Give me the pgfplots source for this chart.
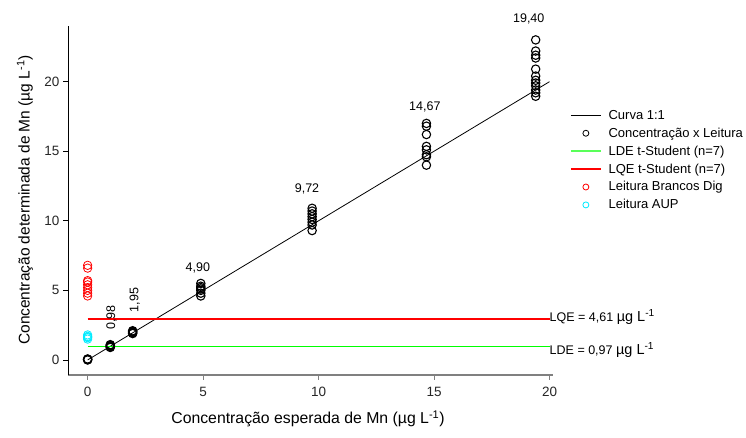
\documentclass[border=0pt]{standalone}
\usepackage{pgfplots}
\pgfplotsset{compat=1.18}
\usepackage{fontspec}
\setmainfont{Liberation Sans}
\definecolor{axgray}{RGB}{128,128,128}
\definecolor{myred}{RGB}{255,0,0}
\definecolor{mygreen}{RGB}{0,255,0}
\definecolor{mycyan}{RGB}{0,235,255}
\begin{document}
\begin{tikzpicture}
\useasboundingbox (0,0) rectangle (746pt,438pt);
\begin{axis}[
  at={(68pt,63pt)}, anchor=south west,
  scale only axis, width=485pt, height=349pt,
  xmin=-0.85, xmax=20.15, ymin=-1.08, ymax=24,
  axis x line*=bottom, axis y line*=left,
  x axis line style={-, axgray, line width=1.6pt},
  y axis line style={-, black, line width=1pt},
  xtick={0,5,10,15,20}, ytick={0,5,10,15,20},
  tick align=outside, major tick length=5pt,
  xtick style={axgray, line width=1pt},
  ytick style={black, line width=0.8pt},
  /pgf/number format/assume math mode=true,
  ticklabel style={font=\fontsize{13.5}{15}\selectfont, text=black!85},
  xticklabel style={yshift=-4pt},
  clip=false,
  legend style={at={(1.035,0.765)}, anchor=north west, draw=none, fill=none,
    font=\fontsize{13}{15}\selectfont, row sep=3pt, inner sep=0pt,
    /tikz/every odd column/.style={column sep=5pt}},
  legend cell align=left,
]
% Curva 1:1
\addplot[color=black, line width=0.8pt, no marks,
  legend image code/.code={\draw[color=black, line width=0.8pt] (0pt,0pt) -- (30pt,0pt);}]
  coordinates {(0,0) (20,20)};
\addlegendentry{Curva 1:1}
% Concentracao x Leitura
\addplot[only marks, mark=o, mark size=4.2pt, color=black, line width=1.1pt,
  legend image code/.code={\draw[color=black, line width=0.8pt] (15pt,0pt) circle (3pt);}]
  coordinates {
  (0,0.00) (0,0.03) (0,0.05) (0,0.07)
  (0.98,0.90) (0.98,0.95) (0.98,1.00) (0.98,1.05) (0.98,1.10)
  (1.95,1.90) (1.95,1.95) (1.95,2.00) (1.95,2.05) (1.95,2.10)
  (4.9,4.6) (4.9,4.8) (4.9,5.0) (4.9,5.1) (4.9,5.2) (4.9,5.3) (4.9,5.5)
  (9.72,9.3) (9.72,9.7) (9.72,9.9) (9.72,10.1) (9.72,10.3) (9.72,10.5) (9.72,10.7) (9.72,10.9)
  (14.67,14.0) (14.67,14.6) (14.67,14.75) (14.67,15.1) (14.67,15.35) (14.67,16.2) (14.67,16.8) (14.67,17.0)
  (19.4,18.95) (19.4,19.2) (19.4,19.4) (19.4,19.7) (19.4,19.9) (19.4,20.1) (19.4,20.4) (19.4,20.9)
  (19.4,21.7) (19.4,21.9) (19.4,22.2) (19.4,23.0)
  };
\addlegendentry{Concentração x Leitura}
% LDE
\addplot[color=mygreen, line width=1pt, no marks,
  legend image code/.code={\draw[draw=mygreen!65!white, line width=1.4pt] (0pt,0pt) -- (30pt,0pt);}]
  coordinates {(0,0.97) (20,0.97)};
\addlegendentry{LDE t-Student (n=7)}
% LQE
\addplot[color=myred, line width=1.6pt, no marks,
  legend image code/.code={\draw[draw=myred, line width=1.4pt] (0pt,0pt) -- (30pt,0pt);}]
  coordinates {(0,2.93) (20,2.93)};
\addlegendentry{LQE t-Student (n=7)}
% Brancos
\addplot[only marks, mark=o, mark size=4.2pt, color=myred, line width=0.8pt,
  legend image code/.code={\draw[draw=myred, line width=0.8pt] (15pt,0pt) circle (3pt);}]
  coordinates {(0,4.6) (0,4.8) (0,5.0) (0,5.2) (0,5.4) (0,5.6) (0,5.7) (0,6.6) (0,6.8)};
\addlegendentry{Leitura Brancos Dig}
% AUP
\addplot[only marks, mark=o, mark size=4.2pt, color=mycyan, line width=0.8pt,
  legend image code/.code={\draw[draw=mycyan, line width=0.8pt] (15pt,0pt) circle (3pt);}]
  coordinates {(0,1.5) (0,1.6) (0,1.65) (0,1.7) (0,1.8)};
\addlegendentry{Leitura AUP}
% annotations
\node[rotate=90, font=\fontsize{12.5}{14}\selectfont] at (axis cs:1.04,3.06) {0,98};
\node[rotate=90, font=\fontsize{12.5}{14}\selectfont] at (axis cs:2.04,4.3) {1,95};
\node[font=\fontsize{12.5}{14}\selectfont] at (axis cs:4.77,6.6) {4,90};
\node[font=\fontsize{12.5}{14}\selectfont] at (axis cs:9.5,12.3) {9,72};
\node[font=\fontsize{12.5}{14}\selectfont] at (axis cs:14.6,18.2) {14,67};
\node[font=\fontsize{12.5}{14}\selectfont] at (axis cs:19.1,24.5) {19,40};
\node[anchor=west, inner sep=0pt, font=\fontsize{12.5}{14}\selectfont] at (axis cs:20.0,3.1) {LQE = 4,61 {\fontsize{14.5}{16}\selectfont µg L\textsuperscript{-1}}};
\node[anchor=west, inner sep=0pt, font=\fontsize{12.5}{14}\selectfont] at (axis cs:20.0,0.72) {LDE = 0,97 {\fontsize{14.5}{16}\selectfont µg L\textsuperscript{-1}}};
\end{axis}
\node[rotate=90, font=\fontsize{15.5}{17}\selectfont] at (25pt,238pt) {Concentração determinada de Mn (µg L\textsuperscript{-1})};
\node[font=\fontsize{15.8}{17}\selectfont] at (308pt,19pt) {Concentração esperada de Mn (µg L\textsuperscript{-1})};
\end{tikzpicture}
\end{document}
